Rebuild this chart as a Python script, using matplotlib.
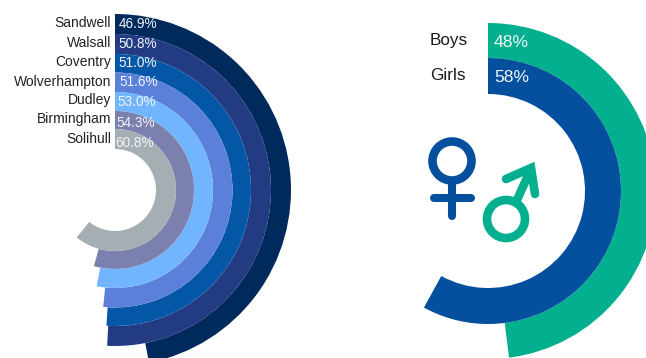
import numpy as np
import matplotlib
matplotlib.use("Agg")
import matplotlib.pyplot as plt
from matplotlib.patches import Circle

plt.rcParams['font.family'] = ['Liberation Sans', 'DejaVu Sans']

W, H = 646, 358

# Attainment by local authority
areas = ["Sandwell", "Walsall", "Coventry", "Wolverhampton", "Dudley", "Birmingham", "Solihull"]
area_pct = [46.9, 50.8, 51.0, 51.6, 53.0, 54.3, 60.8]
area_colors = ["#012a5c", "#233b83", "#0357a6", "#5b80d9", "#72b5ff", "#7c80ae", "#a5aeb3"]

# Attainment by gender
genders = ["Boys", "Girls"]
gender_pct = [48, 58]
gender_colors = ["#02b08f", "#04509f"]


def radial_axes(fig, cx, cy, rmax):
    # polar axes centred on pixel (cx, cy), with one radius unit = one pixel
    ax = fig.add_axes([(cx - rmax) / W, 1 - (cy + rmax) / H, 2 * rmax / W, 2 * rmax / H],
                      projection='polar')
    ax.set_theta_zero_location('N')
    ax.set_theta_direction(-1)
    ax.set_ylim(0, rmax)
    ax.axis('off')
    return ax


def radial_bars(ax, pct, colors, edges):
    for p, c, r0, r1 in zip(pct, colors, edges[:-1], edges[1:]):
        ax.bar(0, r0 - r1, width=p / 100 * 2 * np.pi, bottom=r1, align='edge', color=c, linewidth=0)


fig = plt.figure(figsize=(W / 100, H / 100), dpi=100, facecolor='white')

ax_left = radial_axes(fig, 115, 190, 177)
radial_bars(ax_left, area_pct, area_colors, [176, 156, 136, 117.5, 98, 79, 61, 41])

ax_right = radial_axes(fig, 488, 191, 170)
radial_bars(ax_right, gender_pct, gender_colors, [168, 133, 97])

# overlay in pixel coordinates for labels and the gender symbols
ov = fig.add_axes([0, 0, 1, 1], facecolor='none')
ov.set_xlim(0, W)
ov.set_ylim(H, 0)
ov.axis('off')

area_y = [23, 43, 62, 82, 100, 119, 139]
value_x = [119, 118, 118, 119, 117, 116, 115]
value_y = [24, 44, 63, 82, 102, 123, 143]
for name, p, y, vx, vy in zip(areas, area_pct, area_y, value_x, value_y):
    ov.text(111, y, name, ha='right', va='center', fontsize=10, color='#222222')
    ov.text(vx, vy, f"{p:.1f}%", ha='left', va='center', fontsize=9.8, color='#f0f4fa')

for name, p, y in zip(genders, gender_pct, [41, 76]):
    ov.text(430, y, name, ha='left', va='center', fontsize=12.3, color='#1a1a1a')
    ov.text(494, y + 1.5, f"{p}%", ha='left', va='center', fontsize=12.6, color='#eef6f6')

# female symbol
blue = gender_colors[1]
ov.add_patch(Circle((452, 161), 19.5, fill=False, ec=blue, lw=6.2))
ov.plot([452, 452], [184, 216], color=blue, lw=5.8, solid_capstyle='round')
ov.plot([434, 471], [198, 198], color=blue, lw=5.8, solid_capstyle='round')

# male symbol
green = gender_colors[0]
ov.add_patch(Circle((506, 219), 19, fill=False, ec=green, lw=6.2))
ov.plot([516, 531], [202, 169], color=green, lw=6.2, solid_capstyle='round')
ov.plot([506, 531, 535], [179, 168, 194], color=green, lw=6.2,
        solid_capstyle='round', solid_joinstyle='miter')

fig.savefig("out.png", dpi=100)
plt.close(fig)
